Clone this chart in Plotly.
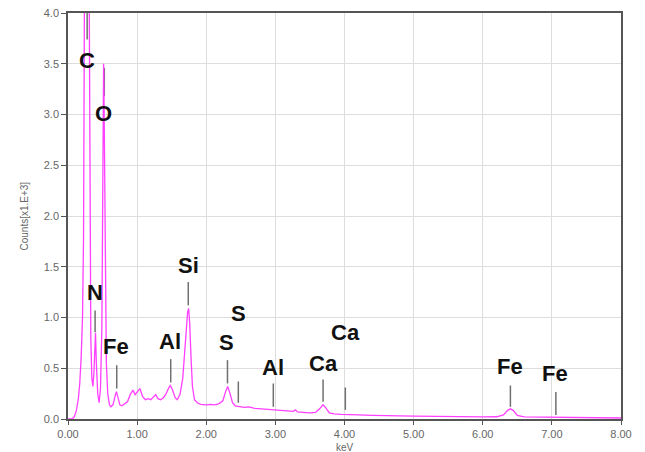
import plotly.graph_objects as go

# Spectrum (keV, counts x1000)
energy_kev = [0.00, 0.06, 0.09, 0.12, 0.15, 0.17, 0.19, 0.21, 0.225, 0.235, 0.245, 0.265, 0.285, 0.30,
              0.312, 0.32, 0.33, 0.345, 0.36, 0.375, 0.39, 0.398, 0.41, 0.43, 0.45, 0.47, 0.49, 0.50,
              0.508, 0.515, 0.522, 0.53, 0.54, 0.555, 0.575, 0.60, 0.62, 0.65, 0.68, 0.70, 0.72, 0.75,
              0.78, 0.82, 0.86, 0.90, 0.94, 0.97, 1.00, 1.04, 1.08, 1.12, 1.16, 1.20, 1.24, 1.27, 1.30,
              1.34, 1.38, 1.42, 1.46, 1.48, 1.51, 1.55, 1.58, 1.62, 1.66, 1.70, 1.73, 1.745, 1.76, 1.78,
              1.80, 1.83, 1.87, 1.92, 2.00, 2.06, 2.12, 2.18, 2.24, 2.28, 2.31, 2.34, 2.38, 2.42, 2.48,
              2.55, 2.62, 2.70, 2.80, 2.90, 3.00, 3.10, 3.20, 3.26, 3.29, 3.32, 3.40, 3.50, 3.58, 3.64,
              3.69, 3.73, 3.78, 3.85, 3.95, 4.05, 4.20, 4.40, 4.60, 4.80, 5.00, 5.20, 5.40, 5.60, 5.80,
              6.00, 6.20, 6.30, 6.36, 6.40, 6.44, 6.50, 6.60, 6.80, 7.00, 7.06, 7.20, 7.40, 7.60, 7.80, 8.00]
counts_k = [0.000, 0.000, 0.02, 0.08, 0.20, 0.35, 0.60, 1.00, 1.8, 3.5, 5.5, 6.8, 6.5, 5.2,
            3.5, 1.8, 0.8, 0.40, 0.32, 0.45, 0.80, 0.85, 0.55, 0.25, 0.16, 0.30, 0.9, 1.8,
            2.9, 3.5, 3.1, 2.2, 1.2, 0.55, 0.25, 0.14, 0.12, 0.14, 0.22, 0.27, 0.22, 0.14,
            0.13, 0.15, 0.17, 0.24, 0.285, 0.24, 0.27, 0.30, 0.22, 0.19, 0.20, 0.19, 0.22, 0.24, 0.20,
            0.19, 0.21, 0.25, 0.31, 0.33, 0.29, 0.21, 0.19, 0.24, 0.40, 0.80, 1.05, 1.09, 0.95, 0.60,
            0.32, 0.19, 0.16, 0.145, 0.14, 0.145, 0.14, 0.15, 0.18, 0.27, 0.32, 0.26, 0.16, 0.13, 0.12,
            0.115, 0.12, 0.105, 0.10, 0.095, 0.09, 0.085, 0.075, 0.075, 0.09, 0.07, 0.065, 0.06, 0.065, 0.10,
            0.14, 0.11, 0.06, 0.05, 0.045, 0.045, 0.04, 0.035, 0.03, 0.03, 0.028, 0.025, 0.024, 0.022, 0.02,
            0.02, 0.022, 0.04, 0.085, 0.10, 0.085, 0.035, 0.02, 0.018, 0.015, 0.02, 0.013, 0.012, 0.012, 0.011, 0.01]

# Element markers
elements = ["C", "O", "N", "Fe", "Al", "Si", "S", "S", "Al", "Ca", "Ca", "Fe", "Fe"]
marker_kev = [0.277, 0.525, 0.392, 0.705, 1.486, 1.740, 2.307, 2.464, 2.970, 3.690, 4.012, 6.400, 7.058]
marker_top = [4.00, 3.46, 1.07, 0.53, 0.59, 1.35, 0.58, 0.37, 0.35, 0.39, 0.31, 0.33, 0.265]
marker_bottom = [3.74, 3.18, 0.855, 0.30, 0.36, 1.12, 0.35, 0.16, 0.12, 0.17, 0.09, 0.12, 0.04]
label_kev = [0.280, 0.510, 0.395, 0.700, 1.480, 1.740, 2.300, 2.470, 2.970, 3.695, 4.010, 6.400, 7.050]
label_y = [3.53, 3.01, 1.25, 0.71, 0.76, 1.51, 0.75, 1.04, 0.51, 0.55, 0.855, 0.52, 0.45]

x_ticks = [0, 1, 2, 3, 4, 5, 6, 7, 8]
y_ticks = [0.0, 0.5, 1.0, 1.5, 2.0, 2.5, 3.0, 3.5, 4.0]

fig = go.Figure()

# marker lines
lx, ly = [], []
for e, t, b in zip(marker_kev, marker_top, marker_bottom):
    lx += [e, e, None]
    ly += [b, t, None]
fig.add_trace(go.Scatter(x=lx, y=ly, mode="lines", line=dict(color="#707070", width=1.5),
                         hoverinfo="skip", showlegend=False))

fig.add_trace(go.Scatter(x=energy_kev, y=counts_k, mode="lines",
                         line=dict(color="#ff40ff", width=1.3), showlegend=False))

for name, xk, yk in zip(elements, label_kev, label_y):
    fig.add_annotation(x=xk, y=yk, text="<b>" + name + "</b>", showarrow=False,
                       font=dict(family="Liberation Sans, Arial", size=22, color="#111111"),
                       xanchor="center", yanchor="middle")

fig.add_annotation(xref="paper", yref="paper", x=0, y=0.5, xshift=-52, text="Counts[x1.E+3]",
                   textangle=-90, showarrow=False,
                   font=dict(family="Liberation Sans, Arial", size=10, color="#666666"))
fig.add_annotation(xref="paper", yref="paper", x=0.5, y=0, yshift=-28, text="keV",
                   showarrow=False, yanchor="middle",
                   font=dict(family="Liberation Sans, Arial", size=10, color="#666666"))

fig.update_layout(
    width=645, height=452,
    margin=dict(l=60, r=32, t=5, b=41),
    paper_bgcolor="white", plot_bgcolor="white",
    font=dict(family="Liberation Sans, Arial", color="#666666"),
)
fig.update_xaxes(range=[0, 8], tickvals=x_ticks, ticktext=[f"{v:.2f}" for v in x_ticks],
                 showgrid=True, gridcolor="#dddddd", gridwidth=1, automargin=False,
                 showline=True, linecolor="#555555", linewidth=1.5, mirror=True,
                 ticks="outside", ticklen=4, tickcolor="#555555", ticklabeloverflow="allow",
                 tickfont=dict(size=11, color="#666666"),
                 zeroline=False)
fig.update_yaxes(range=[0, 4], tickvals=y_ticks, ticktext=[f"{v:.1f}" for v in y_ticks],
                 showgrid=True, gridcolor="#dddddd", gridwidth=1, automargin=False,
                 showline=True, linecolor="#555555", linewidth=1.5, mirror=True,
                 ticks="outside", ticklen=5, tickcolor="#555555", ticklabeloverflow="allow",
                 tickfont=dict(size=11, color="#666666"),
                 zeroline=False)

fig.write_html("out.html")
